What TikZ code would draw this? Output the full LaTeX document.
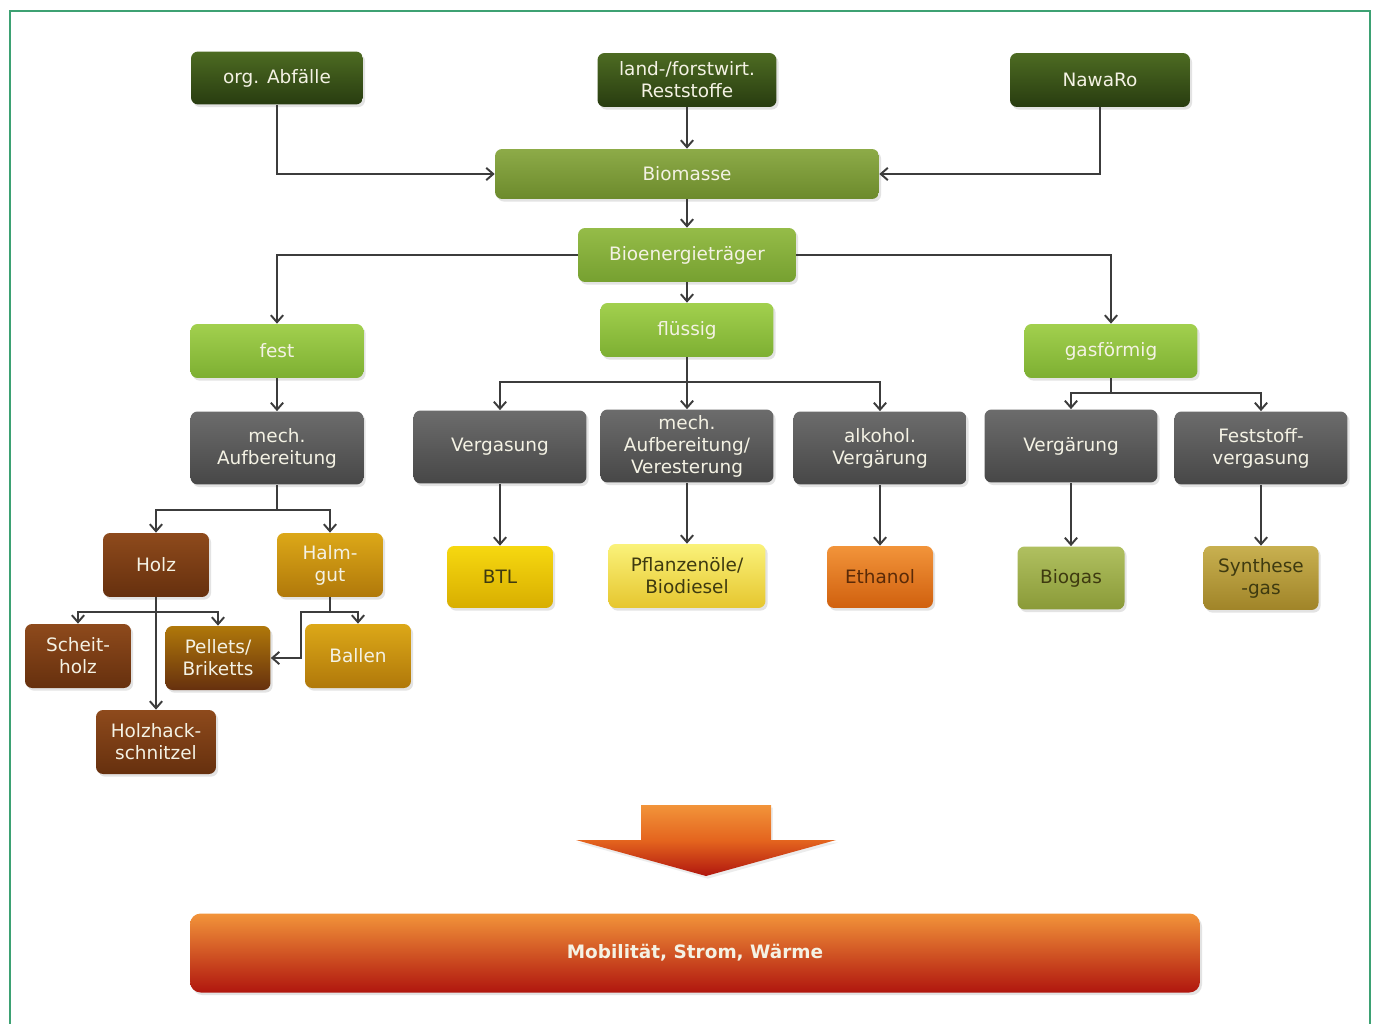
\documentclass[tikz,border=0pt]{standalone}
\usepackage{fontspec}
\setmainfont{DejaVu Sans}
\usetikzlibrary{arrows.meta,shadows}
\definecolor{framegreen}{HTML}{3DA173}
\definecolor{linegray}{HTML}{3C3C3C}
\definecolor{cream}{HTML}{F4F2E4}
\definecolor{dgTop}{HTML}{4D6B22}
\definecolor{dgBot}{HTML}{283C10}
\definecolor{bmTop}{HTML}{8DAB48}
\definecolor{bmBot}{HTML}{6C8A2C}
\definecolor{beTop}{HTML}{95BC48}
\definecolor{beBot}{HTML}{76A030}
\definecolor{lgTop}{HTML}{A2D04E}
\definecolor{lgBot}{HTML}{7DAF32}
\definecolor{grTop}{HTML}{6C6C6C}
\definecolor{grBot}{HTML}{474747}
\definecolor{brTop}{HTML}{8E4A1C}
\definecolor{brBot}{HTML}{66300E}
\definecolor{goTop}{HTML}{DCA818}
\definecolor{goBot}{HTML}{B0780A}
\definecolor{ylTop}{HTML}{F6D810}
\definecolor{ylBot}{HTML}{D8AE00}
\definecolor{lyTop}{HTML}{FAF27A}
\definecolor{lyBot}{HTML}{E6C62E}
\definecolor{orTop}{HTML}{F2943A}
\definecolor{orBot}{HTML}{D0600E}
\definecolor{olTop}{HTML}{B0C060}
\definecolor{olBot}{HTML}{8A9A38}
\definecolor{khTop}{HTML}{C8B050}
\definecolor{khBot}{HTML}{A08428}
\definecolor{darktext}{HTML}{3E3A10}
\definecolor{ethtext}{HTML}{5A2A08}
\definecolor{redBot}{HTML}{B0160E}
\definecolor{orMid}{HTML}{E4641E}
\begin{document}
\begin{tikzpicture}[x=0.02cm,y=-0.02cm,
  box/.style={rounded corners=4pt, inner sep=0pt, align=center,
    font=\fontsize{10.5}{12.5}\selectfont, text=cream,
    drop shadow={opacity=0.22, shadow xshift=1.2pt, shadow yshift=-1.5pt}},
  dg/.style={box, top color=dgTop, bottom color=dgBot},
  bm/.style={box, top color=bmTop, bottom color=bmBot},
  be/.style={box, top color=beTop, bottom color=beBot},
  lg/.style={box, top color=lgTop, bottom color=lgBot, minimum width=3.46cm, minimum height=1.08cm},
  gr/.style={box, top color=grTop, bottom color=grBot, minimum width=3.46cm, minimum height=1.46cm},
  br/.style={box, top color=brTop, bottom color=brBot, minimum width=2.12cm, minimum height=1.28cm},
  go/.style={box, top color=goTop, bottom color=goBot, minimum width=2.12cm, minimum height=1.28cm},
  pe/.style={box, top color=goBot, bottom color=brBot, minimum width=2.1cm, minimum height=1.28cm},
  yl/.style={box, top color=ylTop, bottom color=ylBot, text=darktext},
  ly/.style={box, top color=lyTop, bottom color=lyBot, text=darktext},
  ora/.style={box, top color=orTop, bottom color=orBot, text=ethtext},
  ol/.style={box, top color=olTop, bottom color=olBot, text=darktext},
  kh/.style={box, top color=khTop, bottom color=khBot, text=darktext},
  arr/.style={draw=linegray, line width=1.1pt, -{Straight Barb[length=4pt,width=7pt]}},
  ln/.style={draw=linegray, line width=1.1pt}]
\useasboundingbox (0,0) rectangle (1376,1024);
\fill[white] (0,0) rectangle (1376,1024);
\draw[framegreen, line width=1.1pt] (10,1024) -- (10,11) -- (1370,11) -- (1370,1024);

% top row
\node[dg, minimum width=3.44cm, minimum height=1.06cm] (org) at (277,78) {org. Abfälle};
\node[dg, minimum width=3.58cm, minimum height=1.08cm] (land) at (687,80) {land-/forstwirt.\\Reststoffe};
\node[dg, minimum width=3.6cm, minimum height=1.08cm] (nawa) at (1100,80) {NawaRo};
\node[bm, minimum width=7.68cm, minimum height=1.0cm] (bio) at (687,174) {Biomasse};
\node[be, minimum width=4.36cm, minimum height=1.08cm] (bet) at (687,255) {Bioenergieträger};
\node[lg] (flu) at (687,330) {flüssig};
\node[lg] (fest) at (277,351) {fest};
\node[lg] (gas) at (1111,351) {gasförmig};

% gray process boxes
\node[gr] (mech) at (277,448) {mech.\\Aufbereitung};
\node[gr] (verg) at (500,447) {Vergasung};
\node[gr] (mv) at (687,446) {mech.\\Aufbereitung/\\Veresterung};
\node[gr] (alk) at (880,448) {alkohol.\\Vergärung};
\node[gr] (vgr) at (1071,446) {Vergärung};
\node[gr] (fsv) at (1261,448) {Feststoff-\\vergasung};

% solid branch
\node[br] (holz) at (156,565) {Holz};
\node[go] (halm) at (330,565) {Halm-\\gut};
\node[br] (sch) at (78,656) {Scheit-\\holz};
\node[pe] (pel) at (218,658) {Pellets/\\Briketts};
\node[go] (bal) at (358,656) {Ballen};
\node[br, minimum width=2.4cm] (hhs) at (156,742) {Holzhack-\\schnitzel};

% products
\node[yl, minimum width=2.12cm, minimum height=1.24cm] (btl) at (500,577) {BTL};
\node[ly, minimum width=3.14cm, minimum height=1.28cm] (pfl) at (687,576) {Pflanzenöle/\\Biodiesel};
\node[ora, minimum width=2.12cm, minimum height=1.24cm] (eth) at (880,577) {Ethanol};
\node[ol, minimum width=2.14cm, minimum height=1.26cm] (biog) at (1071,578) {Biogas};
\node[kh, minimum width=2.3cm, minimum height=1.28cm] (syn) at (1261,578) {Synthese\\-gas};

% junctions
\coordinate (jf) at (687,382);
\coordinate (jg) at (1111,393);
\coordinate (jm) at (277,510);
\coordinate (jh) at (156,612);
\coordinate (jb) at (330,612);
\coordinate (jb2) at (301,612);

% connectors
\draw[arr] (org.south) |- (bio.west);
\draw[arr] (land.south) -- (bio.north);
\draw[arr] (nawa.south) |- (bio.east);
\draw[arr] (bio.south) -- (bet.north);
\draw[arr] (bet.south) -- (flu.north);
\draw[arr] (bet.west) -| (fest.north);
\draw[arr] (bet.east) -| (gas.north);
\draw[arr] (fest.south) -- (mech.north);

\draw[ln] (flu.south) -- (jf);
\draw[arr] (jf) -| (verg.north);
\draw[arr] (jf) -- (mv.north);
\draw[arr] (jf) -| (alk.north);

\draw[ln] (gas.south) -- (jg);
\draw[arr] (jg) -| (vgr.north);
\draw[arr] (jg) -| (fsv.north);

\draw[ln] (mech.south) -- (jm);
\draw[arr] (jm) -| (holz.north);
\draw[arr] (jm) -| (halm.north);

\draw[ln] (holz.south) -- (jh);
\draw[arr] (jh) -| (sch.north);
\draw[arr] (jh) -| (pel.north);
\draw[arr] (jh) -- (hhs.north);

\draw[ln] (halm.south) -- (jb);
\draw[arr] (jb) -| (bal.north);
\draw[arr] (jb) -- (jb2) |- (pel.east);

\draw[arr] (verg.south) -- (btl.north);
\draw[arr] (mv.south) -- (pfl.north);
\draw[arr] (alk.south) -- (eth.north);
\draw[arr] (vgr.south) -- (biog.north);
\draw[arr] (fsv.south) -- (syn.north);

% big arrow
\shade[top color=orTop, bottom color=redBot, middle color=orMid,
  drop shadow={opacity=0.15, shadow xshift=1pt, shadow yshift=-1.5pt}]
  (641,805) -- (771,805) -- (771,840) -- (836,840) -- (706,876) -- (576,840) -- (641,840) -- cycle;

% result bar
\node[box, top color=orTop, middle color=orMid, bottom color=redBot,
  minimum width=20.2cm, minimum height=1.58cm, rounded corners=6pt,
  font=\fontsize{10.5}{12.5}\selectfont\bfseries] (bar) at (695,953) {Mobilität, Strom, Wärme};
\end{tikzpicture}
\end{document}
